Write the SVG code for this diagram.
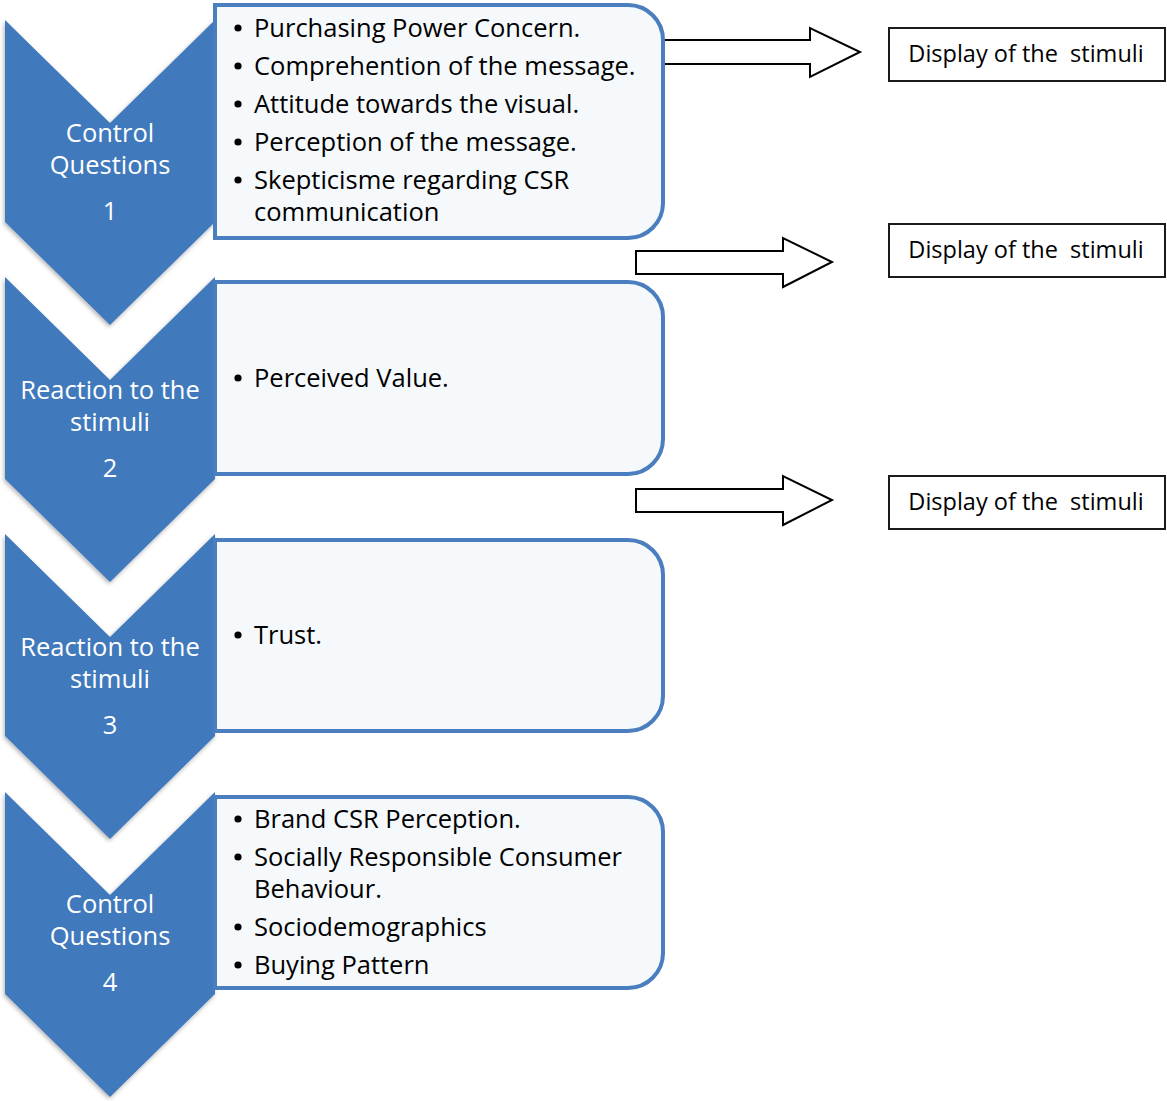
<svg xmlns="http://www.w3.org/2000/svg" width="1167" height="1101" viewBox="0 0 1167 1101">
<style>
.chev{fill:#4179BC}
.box{fill:#F6F9FC;stroke:#4A7EBE;stroke-width:4}
.lbl{font-family:"Open Sans","Noto Sans","DejaVu Sans",sans-serif;font-size:25.5px;fill:#FFFFFF;text-anchor:middle}
.txt{font-family:"Open Sans","Noto Sans","DejaVu Sans",sans-serif;font-size:25.5px;fill:#000000}
.bul{fill:#000000}
.arr{fill:#FFFFFF;stroke:#000000;stroke-width:2;stroke-linejoin:miter}
.disp{fill:#FFFFFF;stroke:#1A1A1A;stroke-width:2}
.dtxt{font-family:"Open Sans","Noto Sans","DejaVu Sans",sans-serif;font-size:23.5px;fill:#000000;text-anchor:middle}
</style>
<defs>
<filter id="sh" x="-10%" y="-10%" width="120%" height="120%">
<feDropShadow dx="-1" dy="2" stdDeviation="2" flood-color="#000" flood-opacity="0.3"/>
</filter>
</defs>
<g id="connectors">
<path class="arr" d="M664,40 H810 V28 L860,52 L810,77 V64 H664 Z"/>
<path class="arr" d="M636,251 H783 V238 L832,262 L783,287 V274 H636 Z"/>
<path class="arr" d="M636,489 H783 V476 L832,500 L783,525 V512 H636 Z"/>
</g>
<g id="step1">
<polygon class="chev" filter="url(#sh)" points="5,20 110,123 215,20 215,222 110,325 5,222"/>
<path class="box" d="M215,5 H628 A35,35 0 0 1 663,40 V203 A35,35 0 0 1 628,238 H215 Z"/>
<text class="lbl" x="110" y="142">Control</text>
<text class="lbl" x="110" y="174">Questions</text>
<text class="lbl" x="110" y="220">1</text>
<circle class="bul" cx="238" cy="28" r="3.6"/>
<text class="txt" x="254" y="37">Purchasing Power Concern.</text>
<circle class="bul" cx="238" cy="66" r="3.6"/>
<text class="txt" x="254" y="75">Comprehention of the message.</text>
<circle class="bul" cx="238" cy="104" r="3.6"/>
<text class="txt" x="254" y="113">Attitude towards the visual.</text>
<circle class="bul" cx="238" cy="142" r="3.6"/>
<text class="txt" x="254" y="151">Perception of the message.</text>
<circle class="bul" cx="238" cy="180" r="3.6"/>
<text class="txt" x="254" y="189">Skepticisme regarding CSR</text>
<text class="txt" x="254" y="221">communication</text>
</g>
<g id="step2">
<polygon class="chev" filter="url(#sh)" points="5,277 110,380 215,277 215,479 110,582 5,479"/>
<path class="box" d="M215,282 H628 A35,35 0 0 1 663,317 V439 A35,35 0 0 1 628,474 H215 Z"/>
<text class="lbl" x="110" y="399">Reaction to the</text>
<text class="lbl" x="110" y="431">stimuli</text>
<text class="lbl" x="110" y="477">2</text>
<circle class="bul" cx="238" cy="378" r="3.6"/>
<text class="txt" x="254" y="387">Perceived Value.</text>
</g>
<g id="step3">
<polygon class="chev" filter="url(#sh)" points="5,534 110,637 215,534 215,736 110,839 5,736"/>
<path class="box" d="M215,540 H628 A35,35 0 0 1 663,575 V696 A35,35 0 0 1 628,731 H215 Z"/>
<text class="lbl" x="110" y="656">Reaction to the</text>
<text class="lbl" x="110" y="688">stimuli</text>
<text class="lbl" x="110" y="734">3</text>
<circle class="bul" cx="238" cy="635" r="3.6"/>
<text class="txt" x="254" y="644">Trust.</text>
</g>
<g id="step4">
<polygon class="chev" filter="url(#sh)" points="5,792 110,895 215,792 215,994 110,1097 5,994"/>
<path class="box" d="M215,797 H628 A35,35 0 0 1 663,832 V953 A35,35 0 0 1 628,988 H215 Z"/>
<text class="lbl" x="110" y="913">Control</text>
<text class="lbl" x="110" y="945">Questions</text>
<text class="lbl" x="110" y="991">4</text>
<circle class="bul" cx="238" cy="819" r="3.6"/>
<text class="txt" x="254" y="828">Brand CSR Perception.</text>
<circle class="bul" cx="238" cy="857" r="3.6"/>
<text class="txt" x="254" y="866">Socially Responsible Consumer</text>
<text class="txt" x="254" y="898">Behaviour.</text>
<circle class="bul" cx="238" cy="927" r="3.6"/>
<text class="txt" x="254" y="936">Sociodemographics</text>
<circle class="bul" cx="238" cy="965" r="3.6"/>
<text class="txt" x="254" y="974">Buying Pattern</text>
</g>
<g id="display1">
<rect class="disp" x="889" y="28" width="276" height="53"/>
<text class="dtxt" x="1026" y="62" xml:space="preserve">Display of the  stimuli</text>
</g>
<g id="display2">
<rect class="disp" x="889" y="224" width="276" height="53"/>
<text class="dtxt" x="1026" y="258" xml:space="preserve">Display of the  stimuli</text>
</g>
<g id="display3">
<rect class="disp" x="889" y="476" width="276" height="53"/>
<text class="dtxt" x="1026" y="510" xml:space="preserve">Display of the  stimuli</text>
</g>
</svg>
